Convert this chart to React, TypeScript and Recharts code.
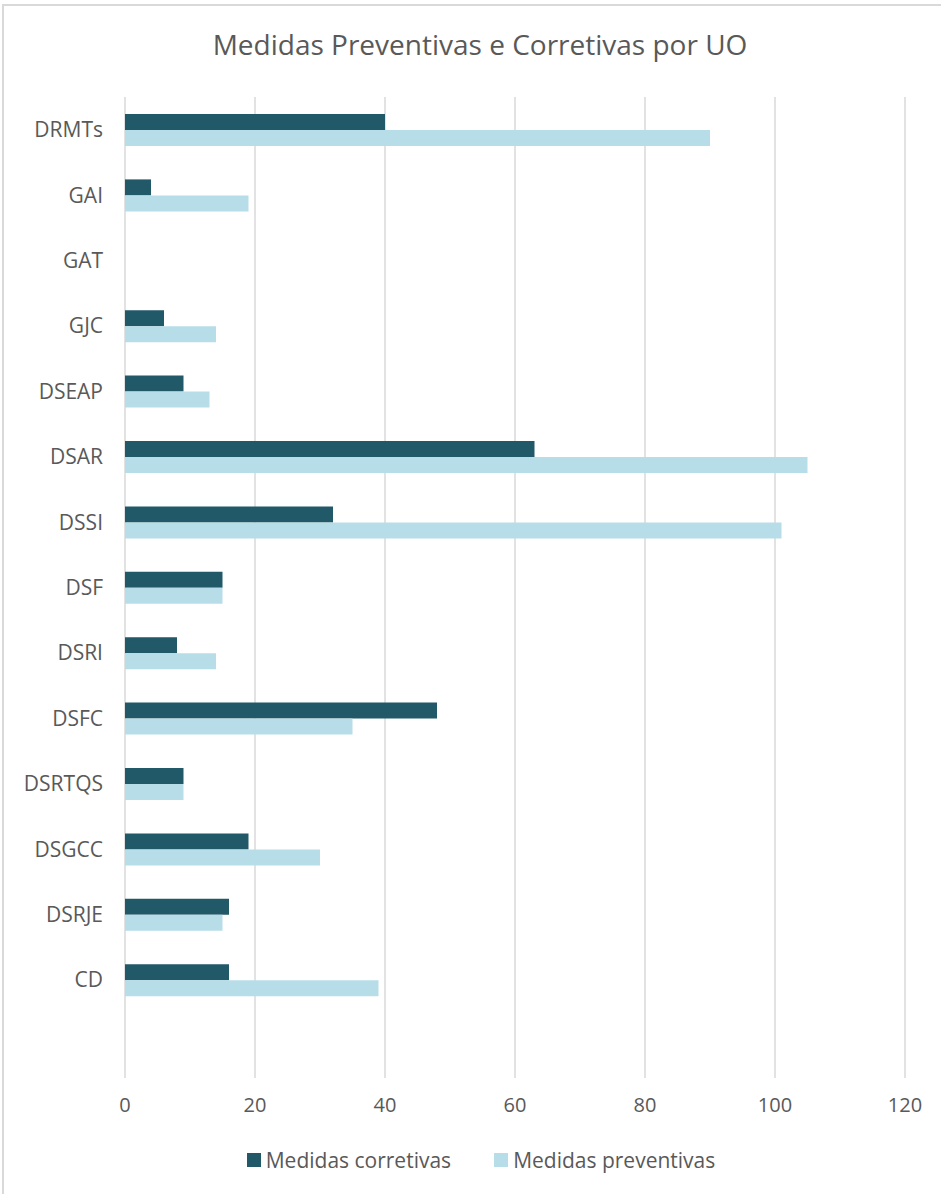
import { BarChart, Bar, XAxis, YAxis, CartesianGrid } from 'recharts';

const categories = ['DRMTs', 'GAI', 'GAT', 'GJC', 'DSEAP', 'DSAR', 'DSSI', 'DSF', 'DSRI', 'DSFC', 'DSRTQS', 'DSGCC', 'DSRJE', 'CD', ''];
const corretivas = [40, 4, 0, 6, 9, 63, 32, 15, 8, 48, 9, 19, 16, 16, null];
const preventivas = [90, 19, 0, 14, 13, 105, 101, 15, 14, 35, 9, 30, 15, 39, null];
const xTicks = [0, 20, 40, 60, 80, 100, 120];

const DARK = '#215968';
const LIGHT = '#b7dee8';
const TEXT = '#595959';
const FONT = "'Open Sans', sans-serif";

const data = categories.map((name, i) => ({
  name,
  corretivas: corretivas[i],
  preventivas: preventivas[i],
}));

if (typeof document !== 'undefined') document.body.style.margin = '0';

export default function App() {
  return (
    <div style={{ position: 'relative', width: 941, height: 1194, background: '#fff', fontFamily: FONT, overflow: 'hidden' }}>
      <div style={{ position: 'absolute', left: 2, top: 4, width: 960, height: 1220, borderLeft: '2px solid #d9d9d9', borderTop: '2px solid #d9d9d9' }} />
      <div style={{ position: 'absolute', top: 25, left: 0, width: 960, textAlign: 'center', fontSize: 28, color: TEXT }}>
        Medidas Preventivas e Corretivas por UO
      </div>
      <BarChart
        width={941}
        height={1194}
        data={data}
        layout='vertical'
        barGap={0}
        barSize={16}
        margin={{ top: 97, right: 36, left: 0, bottom: 76 }}
        style={{ position: 'absolute', left: 0, top: 0 }}
      >
        <CartesianGrid horizontal={false} stroke='#d9d9d9' strokeWidth={1.5} />
        <XAxis
          type='number'
          domain={[0, 120]}
          ticks={xTicks}
          axisLine={false}
          tickLine={false}
          tickSize={0}
          tickMargin={20}
          height={40}
          tick={{ fill: TEXT, fontSize: 20, fontFamily: FONT }}
        />
        <YAxis
          type='category'
          dataKey='name'
          width={125}
          interval={0}
          axisLine={false}
          tickLine={false}
          tickSize={0}
          tickMargin={22}
          tick={{ fill: TEXT, fontSize: 21, fontFamily: FONT }}
        />
        <Bar dataKey='corretivas' name='Medidas corretivas' fill={DARK} isAnimationActive={false} />
        <Bar dataKey='preventivas' name='Medidas preventivas' fill={LIGHT} isAnimationActive={false} />
      </BarChart>
      <div style={{ position: 'absolute', top: 1146, left: 0, width: 962, display: 'flex', justifyContent: 'center', gap: 43, fontSize: 21, color: TEXT }}>
        <div style={{ display: 'flex', alignItems: 'center', gap: 5 }}>
          <span style={{ width: 14, height: 14, background: DARK, display: 'inline-block' }} />
          Medidas corretivas
        </div>
        <div style={{ display: 'flex', alignItems: 'center', gap: 5 }}>
          <span style={{ width: 14, height: 14, background: LIGHT, display: 'inline-block' }} />
          Medidas preventivas
        </div>
      </div>
    </div>
  );
}
